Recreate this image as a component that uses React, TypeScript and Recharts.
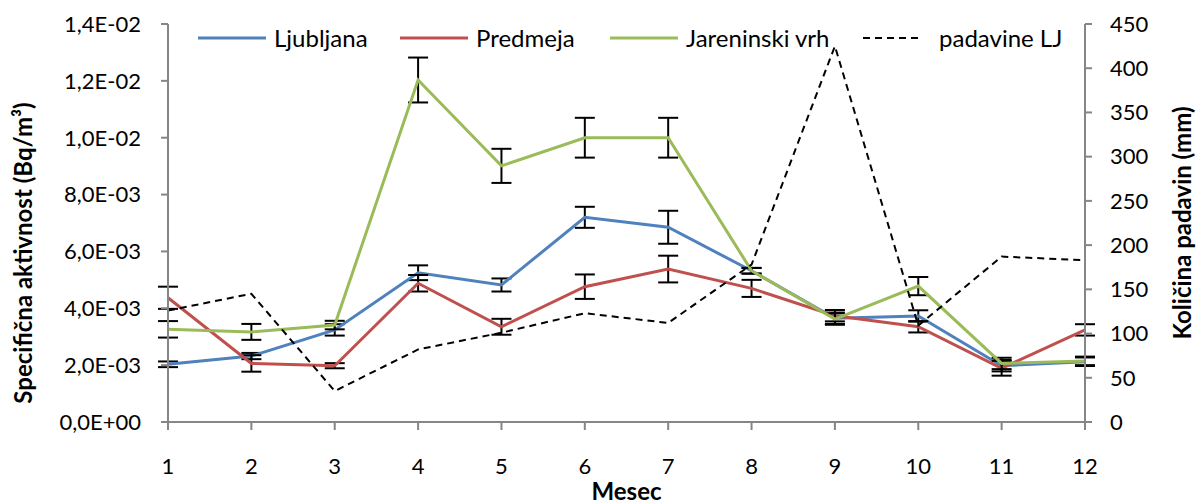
import React from 'react';
import {
  LineChart,
  Line,
  XAxis,
  YAxis,
  Legend,
  ErrorBar,
} from 'recharts';

const months = [1, 2, 3, 4, 5, 6, 7, 8, 9, 10, 11, 12];

const ljubljana = [2.03e-3, 2.32e-3, 3.24e-3, 5.25e-3, 4.82e-3, 7.2e-3, 6.85e-3, 5.32e-3, 3.65e-3, 3.73e-3, 1.98e-3, 2.12e-3];
const ljubljanaErr = [0.1e-3, 0.11e-3, 0.2e-3, 0.26e-3, 0.23e-3, 0.37e-3, 0.58e-3, 0.1e-3, 0.2e-3, 0.2e-3, 0.2e-3, 0.15e-3];

const predmeja = [4.37e-3, 2.06e-3, 1.98e-3, 4.88e-3, 3.35e-3, 4.76e-3, 5.38e-3, 4.7e-3, 3.74e-3, 3.35e-3, 1.89e-3, 3.24e-3];
const predmejaErr = [0.39e-3, 0.29e-3, 0.09e-3, 0.29e-3, 0.28e-3, 0.43e-3, 0.47e-3, 0.3e-3, 0.2e-3, 0.2e-3, 0.26e-3, 0.2e-3];

const jareninski = [3.26e-3, 3.17e-3, 3.41e-3, 12.03e-3, 9.01e-3, 10.0e-3, 10.0e-3, 5.32e-3, 3.62e-3, 4.78e-3, 2.06e-3, 2.15e-3];
const jareninskiErr = [0.29e-3, 0.28e-3, 0.15e-3, 0.79e-3, 0.6e-3, 0.7e-3, 0.7e-3, 0.1e-3, 0.2e-3, 0.32e-3, 0.2e-3, 0.15e-3];

const padavine = [126, 145, 35, 82, 101, 123, 112, 178, 425, 109, 187, 183];

const seriesNames = ['Ljubljana', 'Predmeja', 'Jareninski vrh', 'padavine LJ'];

const leftTicks = [0, 0.002, 0.004, 0.006, 0.008, 0.01, 0.012, 0.014];
const rightTicks = [0, 50, 100, 150, 200, 250, 300, 350, 400, 450];

const data = months.map((m, i) => ({
  mesec: m,
  lj: ljubljana[i],
  ljErr: ljubljanaErr[i],
  pr: predmeja[i],
  prErr: predmejaErr[i],
  jv: jareninski[i],
  jvErr: jareninskiErr[i],
  pad: padavine[i],
}));

const FONT = 'Lato, sans-serif';
const AXIS = '#868686';

// 1,4E-02 style (decimal comma, two-digit exponent)
const sci = (v: number) => {
  const [mant, exp] = v.toExponential(1).split('e');
  const n = Number(exp);
  const sign = n < 0 ? '-' : '+';
  return `${mant.replace('.', ',')}E${sign}${String(Math.abs(n)).padStart(2, '0')}`;
};

const legendLeft = [198, 400, 610, 863];

const renderLegend = (props: any) => {
  const payload = [...(props.payload || [])].sort(
    (a: any, b: any) => seriesNames.indexOf(a.value) - seriesNames.indexOf(b.value),
  );
  return (
    <div style={{ position: 'relative', height: 0, fontFamily: FONT, fontSize: 24, color: '#000' }}>
      {payload.map((entry: any, i: number) => {
        const dashed = entry.payload?.strokeDasharray;
        const w = dashed ? 60 : 68;
        return (
          <div
            key={entry.value}
            style={{
              position: 'absolute',
              left: legendLeft[i],
              top: 0,
              display: 'flex',
              alignItems: 'center',
              whiteSpace: 'nowrap',
            }}
          >
            <svg width={w} height={6}>
              <line
                x1={0}
                y1={3}
                x2={w}
                y2={3}
                stroke={entry.color}
                strokeWidth={dashed ? 2 : 3}
                strokeDasharray={dashed}
              />
            </svg>
            <span style={{ marginLeft: dashed ? 16 : 8 }}>{entry.value}</span>
          </div>
        );
      })}
    </div>
  );
};

export default function App() {
  return (
    <div style={{ position: 'absolute', top: 0, left: 0, background: '#fff' }}>
      <LineChart
        width={1197}
        height={504}
        data={data}
        margin={{ top: 24, right: 0, bottom: 0, left: 0 }}
        style={{ fontFamily: FONT }}
      >
        <XAxis
          dataKey="mesec"
          type="number"
          domain={[1, 12]}
          ticks={months}
          height={82}
          stroke={AXIS}
          strokeWidth={2}
          tickSize={8}
          tickMargin={28}
          tick={{ fill: '#000', fontSize: 22 }}
          label={{ value: 'Mesec', position: 'insideBottom', offset: 4, fill: '#000', fontSize: 24, fontWeight: 'bold' }}
        />
        <YAxis
          yAxisId="left"
          domain={[0, 0.014]}
          ticks={leftTicks}
          tickFormatter={sci}
          width={168}
          stroke={AXIS}
          strokeWidth={2}
          tickSize={7}
          tickMargin={20}
          tick={{ fill: '#000', fontSize: 22 }}
          label={{
            value: 'Specifična aktivnost (Bq/m³)',
            angle: -90,
            position: 'center',
            dx: -61,
            dy: 30,
            fill: '#000',
            fontSize: 24,
            fontWeight: 'bold',
          }}
        />
        <YAxis
          yAxisId="right"
          orientation="right"
          domain={[0, 450]}
          ticks={rightTicks}
          width={112}
          stroke={AXIS}
          strokeWidth={2}
          tickSize={7}
          tickMargin={18}
          tick={{ fill: '#000', fontSize: 22 }}
          label={{
            value: 'Količina padavin (mm)',
            angle: -90,
            position: 'center',
            dx: 41,
            fill: '#000',
            fontSize: 24,
            fontWeight: 'bold',
          }}
        />
        <Legend
          content={renderLegend}
          wrapperStyle={{ top: 23, left: 0, width: 1197, height: 0 }}
        />
        <Line
          yAxisId="left"
          dataKey="lj"
          name="Ljubljana"
          stroke="#4F81BD"
          strokeWidth={3}
          dot={false}
          isAnimationActive={false}
        >
          <ErrorBar dataKey="ljErr" direction="y" width={10} stroke="#000" strokeWidth={2} />
        </Line>
        <Line
          yAxisId="left"
          dataKey="pr"
          name="Predmeja"
          stroke="#C0504D"
          strokeWidth={3}
          dot={false}
          isAnimationActive={false}
        >
          <ErrorBar dataKey="prErr" direction="y" width={10} stroke="#000" strokeWidth={2} />
        </Line>
        <Line
          yAxisId="left"
          dataKey="jv"
          name="Jareninski vrh"
          stroke="#9BBB59"
          strokeWidth={3}
          dot={false}
          isAnimationActive={false}
        >
          <ErrorBar dataKey="jvErr" direction="y" width={10} stroke="#000" strokeWidth={2} />
        </Line>
        <Line
          yAxisId="right"
          dataKey="pad"
          name="padavine LJ"
          stroke="#000"
          strokeWidth={2}
          strokeDasharray="7 5"
          dot={false}
          isAnimationActive={false}
        />
      </LineChart>
    </div>
  );
}
